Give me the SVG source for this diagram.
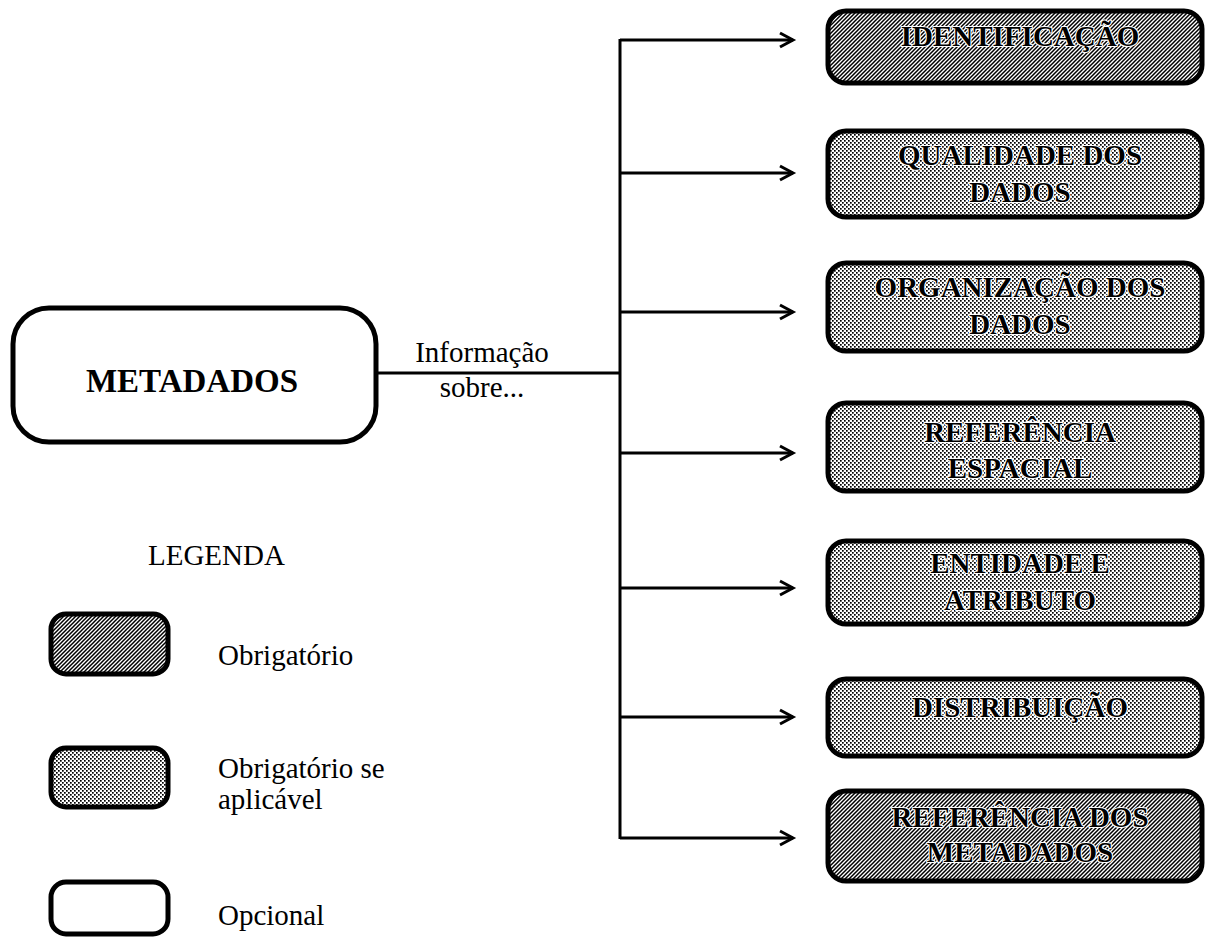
<svg xmlns="http://www.w3.org/2000/svg" width="1208" height="940" viewBox="0 0 1208 940">
<style>
.box{stroke:#000;stroke-width:5}
.dark{fill:url(#hatch)}
.light{fill:url(#dots)}
.open{fill:#fff}
.lbl{font-family:"Liberation Serif","Times New Roman",serif;font-size:29px;font-weight:bold;fill:#000;text-anchor:middle;stroke:#fff;stroke-width:2.2;paint-order:stroke;stroke-linejoin:round}
.txt{font-family:"Liberation Serif","Times New Roman",serif;font-size:29px;fill:#000}
.conn{stroke:#000;stroke-width:3;fill:none}
</style>
<defs>
<pattern id="hatch" patternUnits="userSpaceOnUse" width="4" height="4">
<rect width="4" height="4" fill="#fff"/>
<path d="M-1,1 L1,-1 M0,4 L4,0 M3,5 L5,3" stroke="#000" stroke-width="1.5"/>
</pattern>
<pattern id="dots" patternUnits="userSpaceOnUse" width="4" height="4">
<rect width="4" height="4" fill="#fff"/>
<rect x="0" y="0" width="1.7" height="1.7" fill="#000"/>
<rect x="2" y="2" width="1.7" height="1.7" fill="#000"/>
</pattern>
<marker id="arr" markerUnits="userSpaceOnUse" markerWidth="20" markerHeight="20" viewBox="-2 -10 20 20" refX="13" refY="0" orient="auto">
<path d="M0,-7 L13,0 L0,7" fill="none" stroke="#000" stroke-width="3" stroke-linejoin="miter"/>
</marker>
</defs>
<rect width="1208" height="940" fill="#fff"/>

<g id="connectors">
<line class="conn" x1="377" y1="373" x2="620" y2="373"/>
<line class="conn" x1="620" y1="39" x2="620" y2="839"/>
<line class="conn" x1="620" y1="40" x2="793" y2="40" marker-end="url(#arr)"/>
<line class="conn" x1="620" y1="173" x2="793" y2="173" marker-end="url(#arr)"/>
<line class="conn" x1="620" y1="312" x2="793" y2="312" marker-end="url(#arr)"/>
<line class="conn" x1="620" y1="453" x2="793" y2="453" marker-end="url(#arr)"/>
<line class="conn" x1="620" y1="588" x2="793" y2="588" marker-end="url(#arr)"/>
<line class="conn" x1="620" y1="717" x2="793" y2="717" marker-end="url(#arr)"/>
<line class="conn" x1="620" y1="838" x2="793" y2="838" marker-end="url(#arr)"/>
<text class="txt" x="482" y="362" text-anchor="middle">Informação</text>
<text class="txt" x="482" y="397" text-anchor="middle">sobre...</text>
</g>

<g id="metadados">
<rect class="box open" x="13" y="308" width="363" height="134" rx="36"/>
<text x="192" y="392" font-family="'Liberation Serif','Times New Roman',serif" font-size="33" font-weight="bold" text-anchor="middle">METADADOS</text>
</g>

<g id="identificacao">
<rect class="box dark" x="828" y="11" width="374" height="72" rx="18"/>
<text class="lbl" x="1020" y="46">IDENTIFICAÇÃO</text>
</g>
<g id="qualidade">
<rect class="box light" x="828" y="131" width="374" height="86" rx="18"/>
<text class="lbl" x="1020" y="165">QUALIDADE DOS</text>
<text class="lbl" x="1020" y="202">DADOS</text>
</g>
<g id="organizacao">
<rect class="box light" x="828" y="263" width="374" height="88" rx="18"/>
<text class="lbl" x="1020" y="297">ORGANIZAÇÃO DOS</text>
<text class="lbl" x="1020" y="334">DADOS</text>
</g>
<g id="referencia-espacial">
<rect class="box light" x="828" y="403" width="374" height="88" rx="18"/>
<text class="lbl" x="1020" y="442">REFERÊNCIA</text>
<text class="lbl" x="1020" y="478">ESPACIAL</text>
</g>
<g id="entidade">
<rect class="box light" x="828" y="541" width="374" height="83" rx="18"/>
<text class="lbl" x="1020" y="573">ENTIDADE E</text>
<text class="lbl" x="1020" y="610">ATRIBUTO</text>
</g>
<g id="distribuicao">
<rect class="box light" x="828" y="679" width="374" height="77" rx="18"/>
<text class="lbl" x="1020" y="717">DISTRIBUIÇÃO</text>
</g>
<g id="referencia-metadados">
<rect class="box dark" x="828" y="791" width="374" height="90" rx="18"/>
<text class="lbl" x="1020" y="827">REFERÊNCIA DOS</text>
<text class="lbl" x="1020" y="862">METADADOS</text>
</g>

<g id="legenda">
<text class="txt" x="148" y="565">LEGENDA</text>
<rect class="box dark" x="51" y="614" width="117" height="60" rx="15"/>
<text class="txt" x="218" y="665">Obrigatório</text>
<rect class="box light" x="51" y="748" width="117" height="59" rx="15"/>
<text class="txt" x="218" y="778">Obrigatório se</text>
<text class="txt" x="218" y="809">aplicável</text>
<rect class="box open" x="51" y="882" width="117" height="52" rx="15"/>
<text class="txt" x="218" y="925">Opcional</text>
</g>
</svg>
